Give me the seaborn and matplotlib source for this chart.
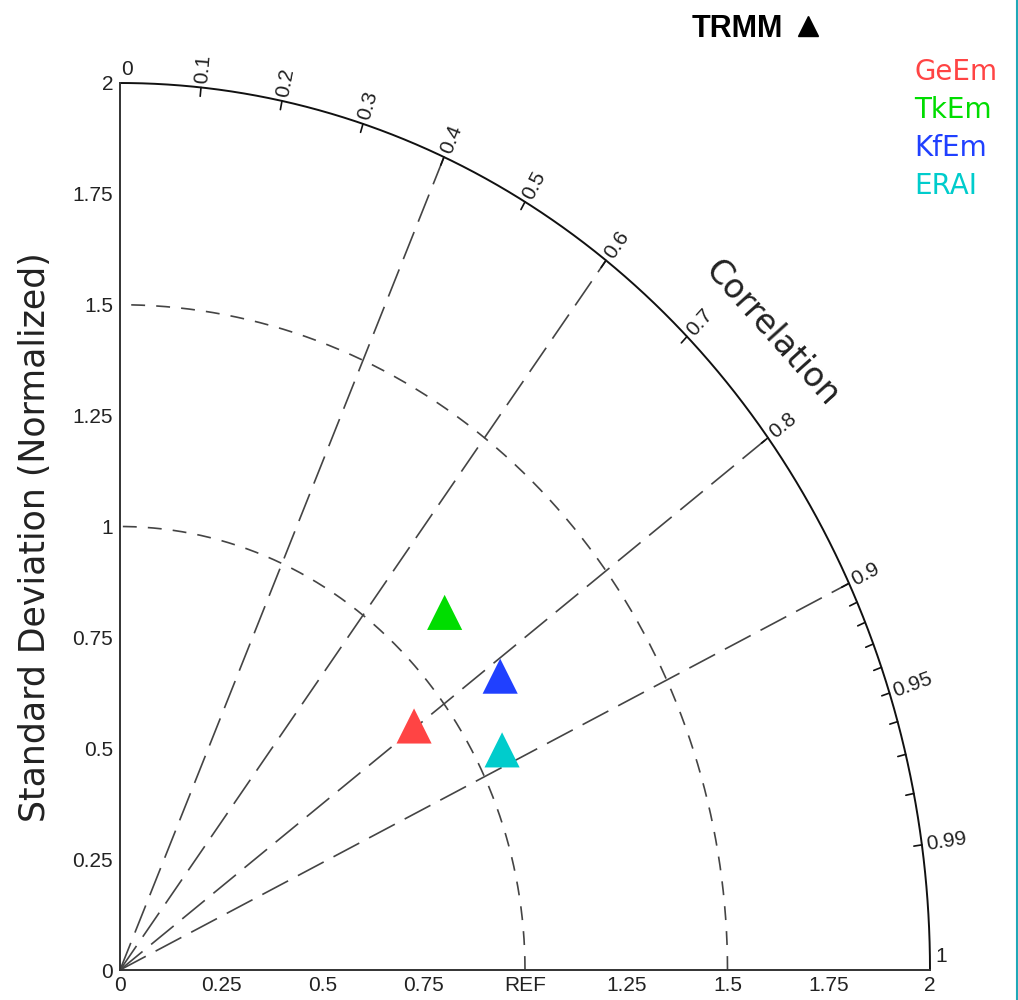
import numpy as np
import pandas as pd
import matplotlib
matplotlib.use("Agg")
import matplotlib.pyplot as plt
import seaborn as sns
from matplotlib.lines import Line2D

# ---- data ----
models = ["GeEm", "TkEm", "KfEm", "ERAI"]
std_dev = [0.911, 1.137, 1.149, 1.066]
correlation = [0.797, 0.705, 0.817, 0.885]
model_colors = ["#ff4444", "#00dd00", "#2040ff", "#00cccc"]
reference_name = "TRMM"

std_ticks = [0, 0.25, 0.5, 0.75, 1.0, 1.25, 1.5, 1.75, 2.0]
x_tick_labels = ["0", "0.25", "0.5", "0.75", "REF", "1.25", "1.5", "1.75", "2"]
y_tick_labels = ["0", "0.25", "0.5", "0.75", "1", "1.25", "1.5", "1.75", "2"]
corr_major = [0.1, 0.2, 0.3, 0.4, 0.5, 0.6, 0.7, 0.8, 0.9, 0.95, 0.99]
corr_labels = ["0.1", "0.2", "0.3", "0.4", "0.5", "0.6", "0.7", "0.8", "0.9", "0.95", "0.99"]
corr_minor = [0.91, 0.92, 0.93, 0.94, 0.96, 0.97, 0.98]
corr_lines = [0.4, 0.6, 0.8, 0.9]
std_arcs = [1.0, 1.5]
rmax = 2.0

sns.set_theme(style="white")
plt.rcParams["lines.scale_dashes"] = False
plt.rcParams["font.family"] = ["DejaVu Sans"]

W, H = 1018, 1000
fig = plt.figure(figsize=(W / 100, H / 100), dpi=100)
fig.patch.set_facecolor("white")
ax = fig.add_axes([120 / W, 30 / H, 810 / W, 887 / H])
ax.set_facecolor("none")
ax.set_xlim(0, rmax)
ax.set_ylim(0, rmax)

# spines / ticks
for s in ["top", "right"]:
    ax.spines[s].set_visible(False)
for s in ["left", "bottom"]:
    ax.spines[s].set_color("#333333")
    ax.spines[s].set_linewidth(1.4)
ax.set_xticks(std_ticks)
ax.set_xticklabels(x_tick_labels, fontfamily="Liberation Sans", fontsize=15, color="#222222")
ax.set_yticks(std_ticks)
ax.set_yticklabels(y_tick_labels, fontfamily="Liberation Sans", fontsize=15, color="#222222")
ax.tick_params(axis="both", direction="in", length=6, width=1.2, color="#333333")
ax.tick_params(axis="x", pad=4)
ax.tick_params(axis="y", pad=5)
ax.grid(False)

# outer correlation arc
th = np.linspace(0, np.pi / 2, 400)
ax.plot(rmax * np.cos(th), rmax * np.sin(th), color="#111111", lw=1.4, clip_on=False)

# std arcs
for r in std_arcs:
    ax.plot(r * np.cos(th), r * np.sin(th), color="#444444", lw=1.2,
            dashes=(10, 8), clip_on=False)

# correlation radial lines
for c in corr_lines:
    t = np.arccos(c)
    ax.plot([0, rmax * np.cos(t)], [0, rmax * np.sin(t)], color="#444444", lw=1.2,
            dashes=(21, 8), clip_on=False)

# correlation ticks
sx, sy = 405.0, 443.5  # px per unit
def tick(c, ln):
    t = np.arccos(c)
    ax.plot([rmax * np.cos(t), (rmax - ln) * np.cos(t)],
            [rmax * np.sin(t), (rmax - ln) * np.sin(t)], color="#111111", lw=1.2,
            clip_on=False)

for c in corr_major:
    tick(c, 0.02)
for c in corr_minor:
    tick(c, 0.02)

for c, lab in zip(corr_major, corr_labels):
    t = np.arccos(c)
    phi = np.degrees(np.arctan2(sy * np.sin(t), sx * np.cos(t)))
    off = 3.0
    ax.annotate(lab, xy=(rmax * np.cos(t), rmax * np.sin(t)),
                xytext=(off * np.cos(np.radians(phi)), off * np.sin(np.radians(phi))),
                textcoords="offset points", ha="left", va="center",
                rotation=phi, rotation_mode="anchor",
                fontfamily="Liberation Sans", fontsize=15, color="#222222",
                annotation_clip=False)
ax.annotate("0", xy=(0, rmax), xytext=(1, 3), textcoords="offset points",
            ha="left", va="bottom", fontfamily="Liberation Sans", fontsize=15,
            color="#222222", annotation_clip=False)
ax.annotate("1", xy=(rmax, 0), xytext=(4, 3), textcoords="offset points",
            ha="left", va="bottom", fontfamily="Liberation Sans", fontsize=15,
            color="#222222", annotation_clip=False)

# model points
t = np.arccos(np.array(correlation))
df = pd.DataFrame({
    "model": models,
    "x": np.array(std_dev) * np.cos(t),
    "y": np.array(std_dev) * np.sin(t),
})
sns.scatterplot(data=df, x="x", y="y", hue="model", palette=dict(zip(models, model_colors)),
                marker="^", s=640, edgecolor="none", linewidth=0, legend=False,
                ax=ax, clip_on=False, zorder=5)
ax.set_xlabel("")
ax.set_ylabel("")

# axis titles
fig.text(35 / W, 1 - 537 / H, "Standard Deviation (Normalized)", rotation=90,
         ha="center", va="center", fontsize=25, color="#222222")
fig.text(772 / W, 1 - 333 / H, "Correlation", rotation=-48,
         ha="center", va="center", fontsize=24, color="#222222",
         rotation_mode="anchor")

# reference legend
fig.text(692 / W, 1 - 29 / H, reference_name, ha="left", va="center",
         fontfamily="Liberation Sans", fontsize=22, fontweight="bold", color="black")
fig.add_artist(Line2D([808 / W], [1 - 26 / H], marker="^", markersize=14,
                      color="black", linestyle="none"))

# model legend
ys = [72, 110, 148, 186]
for m, col, yy in zip(models, model_colors, ys):
    fig.text(914 / W, 1 - yy / H, m, ha="left", va="center", fontsize=20, color=col)

# right border line
fig.add_artist(Line2D([1016.5 / W, 1016.5 / W], [0, 1], color="#20a8b8", lw=1.5))

fig.savefig("out.png", dpi=100, facecolor="white")
